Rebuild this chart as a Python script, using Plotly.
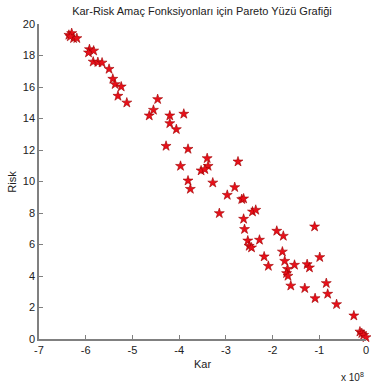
import plotly.graph_objects as go

# Kar in units of 1e8
kar = [-6.36, -6.30, -6.26, -6.19, -6.33,
       -5.92, -5.94, -5.83, -5.84, -5.74, -5.65, -5.50, -5.42, -5.37, -5.24, -5.31, -5.12,
       -4.64, -4.55, -4.46, -4.20, -3.90, -4.20, -4.06, -4.28, -3.81,
       -3.40, -2.74, -3.97, -3.38, -3.53, -3.45, -3.81, -3.76, -3.28,
       -2.97, -2.81, -2.66, -2.62, -3.14, -2.62, -2.43, -2.36, -2.60,
       -1.91, -1.77, -1.10, -2.53, -2.50, -2.45, -2.28, -1.79, -2.18, -2.09,
       -1.74, -1.68, -1.70, -1.67, -1.53, -1.26, -1.21, -0.99,
       -1.61, -1.31, -1.09, -0.85, -0.82, -0.63, -0.26,
       -0.13, -0.09, -0.05, 0.0]
risk = [19.30, 19.41, 19.09, 19.09, 19.20,
        18.39, 18.18, 18.30, 17.60, 17.57, 17.54, 17.14, 16.51, 16.17, 16.02, 15.43, 15.00,
        14.18, 14.54, 15.22, 14.18, 14.29, 13.69, 13.31, 12.25, 12.06,
        11.47, 11.26, 10.98, 10.98, 10.69, 10.77, 10.05, 9.52, 9.92,
        9.14, 9.63, 8.87, 8.91, 7.98, 7.62, 8.08, 8.19, 6.97,
        6.86, 6.54, 7.13, 6.24, 5.90, 5.80, 6.29, 5.54, 5.23, 4.63,
        4.95, 4.44, 4.17, 4.00, 4.70, 4.74, 4.53, 5.19,
        3.38, 3.22, 2.58, 3.54, 2.86, 2.20, 1.48,
        0.46, 0.36, 0.25, 0.10]

x_ticks = [-7, -6, -5, -4, -3, -2, -1, 0]
y_ticks = [0, 2, 4, 6, 8, 10, 12, 14, 16, 18, 20]

font = "Liberation Sans, Arial, sans-serif"

fig = go.Figure(go.Scatter(
    x=kar, y=risk, mode="markers", cliponaxis=False,
    marker=dict(symbol="star", size=7.5, color="#e8101a",
                line=dict(color="#a00000", width=0.6)),
))

fig.update_layout(
    width=374, height=387,
    margin=dict(l=39, r=5, t=24, b=48),
    paper_bgcolor="white", plot_bgcolor="white",
    showlegend=False,
    font=dict(family=font, size=11, color="#222"),
    title=dict(text="Kar-Risk Amaç Fonksiyonları için Pareto Yüzü Grafiği",
               x=0.54, xanchor="center", y=0.972, yanchor="middle",
               font=dict(size=11, family=font, color="#222")),
    xaxis=dict(range=[-7, 0], tickvals=x_ticks, ticktext=[str(v) for v in x_ticks],
               ticks="inside", ticklen=4, tickcolor="#808080",
               showline=True, linecolor="#808080", linewidth=1.5,
               showgrid=False, zeroline=False, mirror=False),
    yaxis=dict(range=[0, 20], tickvals=y_ticks, ticktext=[str(v) for v in y_ticks],
               ticks="inside", ticklen=4, tickcolor="#808080",
               showline=True, linecolor="#808080", linewidth=1.5,
               showgrid=False, zeroline=False, mirror=False),
    annotations=[
        dict(text="Kar", xref="paper", yref="paper", x=0.5, y=-0.055,
             xanchor="center", yanchor="top", showarrow=False, font=dict(size=11)),
        dict(text="Risk", xref="paper", yref="paper", x=-0.085, y=0.5,
             xanchor="center", yanchor="middle", textangle=-90, showarrow=False,
             font=dict(size=11)),
        dict(text="x 10<sup>8</sup>", xref="paper", yref="paper", x=1.0, y=-0.095,
             xanchor="right", yanchor="top", showarrow=False, font=dict(size=10)),
    ],
)

fig.write_html("out.html", config={"displayModeBar": False},
               post_script="document.body.style.margin='0';document.body.style.overflow='hidden';")
